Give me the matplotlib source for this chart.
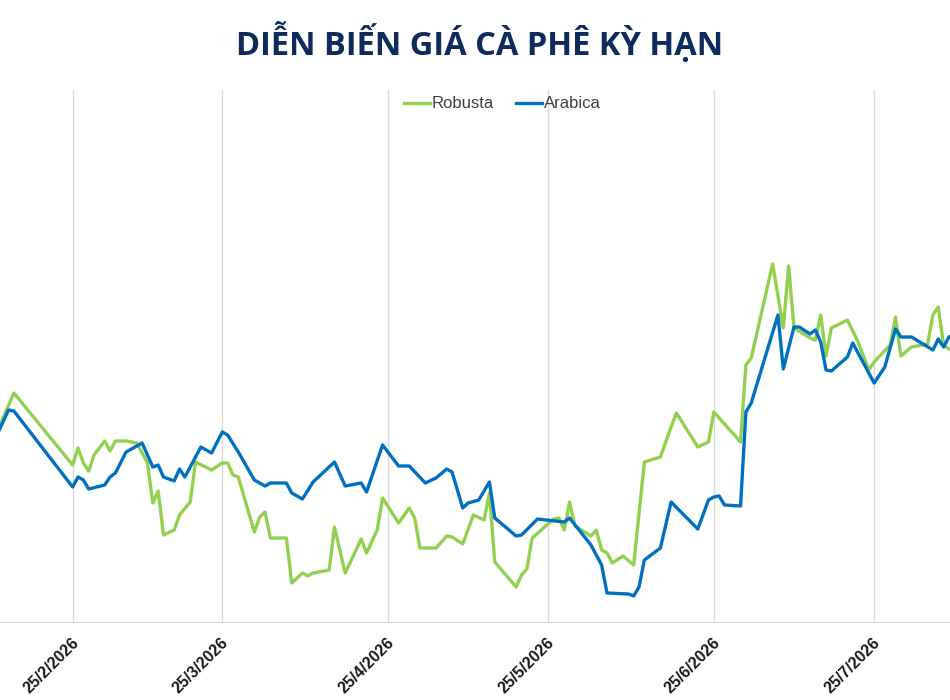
import matplotlib
matplotlib.use('Agg')
import matplotlib.pyplot as plt
import matplotlib.dates as mdates
import matplotlib.transforms as mtransforms
import pandas as pd

title = 'DIỄN BIẾN GIÁ CÀ PHÊ KỲ HẠN'

robusta_dates = [
    "2026-02-11", "2026-02-14", "2026-02-25", "2026-02-26", "2026-02-27", "2026-02-28", "2026-03-01", "2026-03-03", "2026-03-04", "2026-03-05",
    "2026-03-07", "2026-03-09", "2026-03-11", "2026-03-12", "2026-03-13", "2026-03-14", "2026-03-16", "2026-03-17", "2026-03-19", "2026-03-20",
    "2026-03-23", "2026-03-25", "2026-03-26", "2026-03-27", "2026-03-28", "2026-03-31", "2026-04-01", "2026-04-02", "2026-04-03", "2026-04-06",
    "2026-04-07", "2026-04-09", "2026-04-10", "2026-04-11", "2026-04-14", "2026-04-15", "2026-04-17", "2026-04-20", "2026-04-21", "2026-04-23",
    "2026-04-24", "2026-04-27", "2026-04-29", "2026-04-30", "2026-05-01", "2026-05-04", "2026-05-06", "2026-05-07", "2026-05-09", "2026-05-11",
    "2026-05-13", "2026-05-14", "2026-05-15", "2026-05-19", "2026-05-20", "2026-05-21", "2026-05-22", "2026-05-26", "2026-05-27", "2026-05-28",
    "2026-05-29", "2026-05-30", "2026-06-02", "2026-06-03", "2026-06-04", "2026-06-05", "2026-06-06", "2026-06-08", "2026-06-10", "2026-06-12",
    "2026-06-15", "2026-06-17", "2026-06-18", "2026-06-22", "2026-06-24", "2026-06-25", "2026-06-30", "2026-07-01", "2026-07-02", "2026-07-06",
    "2026-07-08", "2026-07-09", "2026-07-10", "2026-07-13", "2026-07-14", "2026-07-15", "2026-07-16", "2026-07-17", "2026-07-20", "2026-07-22",
    "2026-07-24", "2026-07-25", "2026-07-28", "2026-07-29", "2026-07-30", "2026-08-01", "2026-08-04", "2026-08-05", "2026-08-06", "2026-08-07",
    "2026-08-08", "2026-08-09"]
robusta = [
    192, 229, 157, 174, 159, 151, 167, 181, 171, 181,
    181, 179, 159, 119, 131, 87, 92, 107, 120, 160,
    152, 159, 159, 147, 145, 90, 105, 110, 84, 84,
    39, 49, 46, 49, 52, 95, 49, 83, 69, 92,
    124, 99, 114, 104, 74, 74, 86, 85, 78, 107,
    102, 129, 60, 35, 47, 53, 84, 103, 104, 92,
    120, 96, 86, 92, 72, 69, 59, 66, 57, 160,
    165, 195, 209, 175, 180, 210, 180, 257, 264, 358,
    294, 356, 294, 284, 282, 307, 266, 294, 302, 280,
    252, 260, 277, 305, 266, 275, 278, 307, 315, 277,
    273, 274]

arabica_dates = [
    "2026-02-11", "2026-02-13", "2026-02-14", "2026-02-25", "2026-02-26", "2026-02-27", "2026-02-28", "2026-03-03", "2026-03-04", "2026-03-05",
    "2026-03-07", "2026-03-10", "2026-03-11", "2026-03-12", "2026-03-13", "2026-03-14", "2026-03-16", "2026-03-17", "2026-03-18", "2026-03-21",
    "2026-03-23", "2026-03-25", "2026-03-26", "2026-03-28", "2026-03-31", "2026-04-02", "2026-04-03", "2026-04-06", "2026-04-07", "2026-04-09",
    "2026-04-11", "2026-04-15", "2026-04-17", "2026-04-20", "2026-04-21", "2026-04-24", "2026-04-27", "2026-04-29", "2026-05-02", "2026-05-04",
    "2026-05-06", "2026-05-07", "2026-05-09", "2026-05-10", "2026-05-12", "2026-05-14", "2026-05-15", "2026-05-19", "2026-05-20", "2026-05-23",
    "2026-05-28", "2026-05-29", "2026-06-02", "2026-06-04", "2026-06-05", "2026-06-09", "2026-06-10", "2026-06-11", "2026-06-12", "2026-06-15",
    "2026-06-17", "2026-06-22", "2026-06-24", "2026-06-25", "2026-06-26", "2026-06-27", "2026-06-30", "2026-07-01", "2026-07-02", "2026-07-07",
    "2026-07-08", "2026-07-10", "2026-07-11", "2026-07-13", "2026-07-14", "2026-07-15", "2026-07-16", "2026-07-17", "2026-07-20", "2026-07-21",
    "2026-07-25", "2026-07-27", "2026-07-29", "2026-07-30", "2026-08-01", "2026-08-05", "2026-08-06", "2026-08-07", "2026-08-08", "2026-08-09"]
arabica = [
    189, 212, 211, 135, 145, 142, 133, 137, 145, 149,
    170, 179, 167, 155, 157, 145, 141, 153, 145, 175,
    169, 190, 187, 170, 142, 136, 139, 139, 129, 123,
    140, 160, 136, 139, 130, 177, 156, 156, 139, 144,
    153, 150, 114, 119, 122, 140, 104, 86, 87, 103,
    100, 104, 77, 57, 29, 28, 26, 35, 62, 74,
    120, 93, 122, 125, 126, 117, 116, 210, 219, 307,
    253, 295, 295, 288, 292, 280, 252, 251, 265, 279,
    239, 255, 293, 285, 285, 272, 283, 275, 285, 287]

tick_dates = ["2026-02-25", "2026-03-25", "2026-04-25", "2026-05-25", "2026-06-25", "2026-07-25"]
tick_labels = ["25/2/2026", "25/3/2026", "25/4/2026", "25/5/2026", "25/6/2026", "25/7/2026"]

fig = plt.figure(figsize=(9.5, 7), dpi=100)
ax = fig.add_axes([0, 78 / 700, 1, 532 / 700])

ax.plot(pd.to_datetime(robusta_dates), robusta, color='#92d050', lw=2.4, label='Robusta')
ax.plot(pd.to_datetime(arabica_dates), arabica, color='#0070c0', lw=2.4, label='Arabica')

base = mdates.date2num(pd.Timestamp("2026-02-25"))
ax.set_xlim(base - 13.6, base + 164.2)
ax.set_ylim(0, 532)

ax.set_xticks(pd.to_datetime(tick_dates))
ax.set_xticklabels(tick_labels, rotation=45, ha='right', va='center',
                   rotation_mode='anchor', fontsize=11.5, fontweight='bold',
                   family='Liberation Sans', color='#1a1a1a')
ax.tick_params(axis='x', length=0, pad=13)
offset = mtransforms.ScaledTranslation(4 / 100, 0, fig.dpi_scale_trans)
for lbl in ax.get_xticklabels():
    lbl.set_transform(lbl.get_transform() + offset)
ax.set_yticks([])
ax.grid(axis='x', color='#d9d9d9', lw=1)
for s in ['left', 'right', 'top']:
    ax.spines[s].set_visible(False)
ax.spines['bottom'].set_color('#d9d9d9')

fig.text(0.505, 1 - 42 / 700, title, ha='center', va='center', fontsize=23.5,
         fontweight='bold', color='#0d2b5c', family='Open Sans')

leg = ax.legend(loc='center', bbox_to_anchor=(502 / 950, 1 - 104 / 700),
                bbox_transform=fig.transFigure, ncol=2, frameon=False,
                prop={'family': 'Liberation Sans', 'size': 12},
                handlelength=1.6, handletextpad=0.08, columnspacing=1.3)
for t in leg.get_texts():
    t.set_color('#404040')

fig.savefig('out.png', dpi=100)
